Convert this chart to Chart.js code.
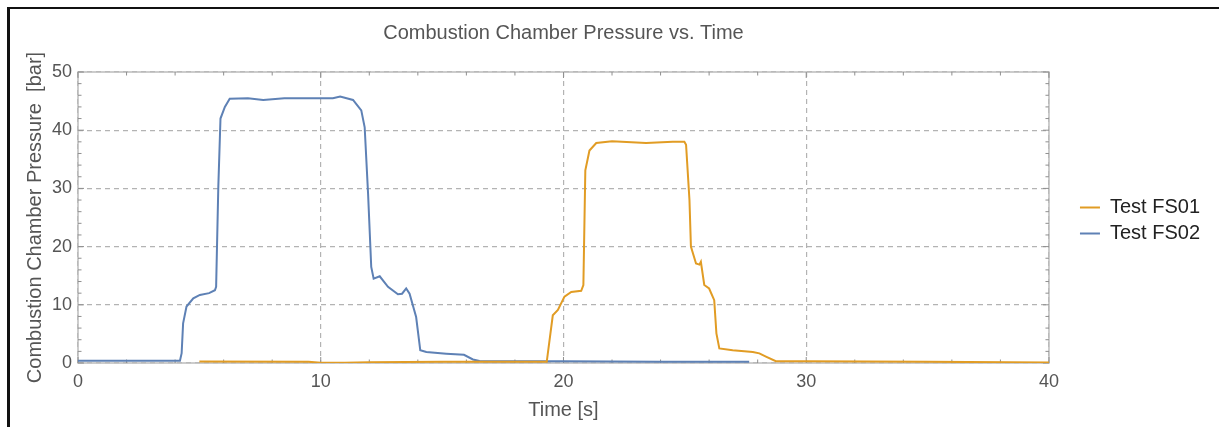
<!DOCTYPE html>
<html>
<head>
<meta charset="utf-8">
<script src="https://cdn.jsdelivr.net/npm/chart.js@4.4.1/dist/chart.umd.min.js"></script>
<style>
  html, body { margin: 0; padding: 0; background: #fff; }
  #caja { position: relative; width: 1219px; height: 427px; }
  #borde { position: absolute; left: 7px; top: 7px; right: 0; bottom: 0; border-left: 3px solid #111; border-top: 2px solid #111; pointer-events: none; }
</style>
</head>
<body>
<div id="caja">
  <canvas id="grafica" width="1219" height="427"></canvas>
  <div id="borde"></div>
</div>
<script>
// Datos (tiempo en s, presion en bar)
let tiempoFS01 = [5.0, 9.5, 10.0, 11.0, 12.0, 15.0, 19.31, 19.56, 19.77, 20.04, 20.32, 20.73, 20.82, 20.9, 21.07, 21.35, 22.0, 23.4, 24.5, 24.98, 25.05, 25.19, 25.25, 25.46, 25.6, 25.66, 25.8, 26.0, 26.21, 26.3, 26.42, 26.97, 27.8, 28.07, 28.34, 28.75, 30.0, 35.0, 40.0];
let presionFS01 = [0.25, 0.2, 0.05, 0.05, 0.15, 0.2, 0.2, 8.2, 9.1, 11.4, 12.2, 12.4, 13.4, 33.1, 36.5, 37.8, 38.1, 37.8, 38.0, 38.0, 37.5, 28.0, 20.0, 17.1, 16.9, 17.4, 13.4, 12.8, 10.8, 5.1, 2.5, 2.2, 1.9, 1.65, 1.1, 0.3, 0.3, 0.2, 0.1];

let tiempoFS02 = [0, 4.2, 4.27, 4.33, 4.47, 4.75, 5.02, 5.4, 5.64, 5.69, 5.78, 5.87, 6.05, 6.25, 7.0, 7.63, 8.5, 9.5, 10.5, 10.8, 11.33, 11.67, 11.81, 11.95, 12.08, 12.18, 12.43, 12.77, 13.18, 13.35, 13.52, 13.66, 13.93, 14.1, 14.35, 15.17, 15.9, 16.27, 16.54, 17.0, 20.0, 24.0, 27.65];
let presionFS02 = [0.4, 0.4, 1.7, 6.8, 9.7, 11.1, 11.7, 12.0, 12.5, 13.1, 30.2, 42.0, 44.0, 45.4, 45.5, 45.2, 45.5, 45.5, 45.5, 45.8, 45.2, 43.4, 40.5, 29.1, 16.5, 14.5, 14.9, 13.1, 11.8, 11.9, 12.8, 11.9, 7.9, 2.2, 1.9, 1.6, 1.4, 0.6, 0.35, 0.3, 0.3, 0.2, 0.2];

let etiquetas = ['Test FS01', 'Test FS02'];
let titulo = 'Combustion Chamber Pressure vs. Time';
let tituloX = 'Time [s]';
let tituloY = 'Combustion Chamber Pressure  [bar]';

const naranja = '#E19C24';
const azul = '#5E81B5';
const fuente = "'Liberation Sans', Arial, sans-serif";

function puntos(t, p) {
    return t.map((v, i) => ({ x: v, y: p[i] }));
}

//Marco gris con marcas menores (estilo Mathematica)
const marco = {
    id: 'marco',
    beforeDatasetsDraw(chart) {
        const { ctx, chartArea: a, scales: { x, y } } = chart;
        ctx.save();
        ctx.strokeStyle = '#bcbcbc';
        ctx.lineWidth = 1.5;
        ctx.strokeRect(a.left, a.top, a.right - a.left, a.bottom - a.top);
        ctx.strokeStyle = '#8f8f8f';
        ctx.lineWidth = 1;
        ctx.beginPath();
        for (let v = 0; v <= 40; v += 2) {
            const px = x.getPixelForValue(v);
            const largo = v % 10 === 0 ? 6 : 3.5;
            ctx.moveTo(px, a.bottom); ctx.lineTo(px, a.bottom - largo);
            ctx.moveTo(px, a.top); ctx.lineTo(px, a.top + largo);
        }
        for (let v = 0; v <= 50; v += 2) {
            const py = y.getPixelForValue(v);
            const largo = v % 10 === 0 ? 6 : 3.5;
            ctx.moveTo(a.left, py); ctx.lineTo(a.left + largo, py);
            ctx.moveTo(a.right, py); ctx.lineTo(a.right - largo, py);
        }
        ctx.stroke();
        ctx.restore();
    }
};

const rejilla = {
    color: '#b3b3b3',
    lineWidth: 1.2,
    drawTicks: false
};

const grafica = new Chart(document.getElementById("grafica"), {
    type: 'line',
    data: {
        datasets: [
            { label: etiquetas[0], data: puntos(tiempoFS01, presionFS01), borderColor: naranja, backgroundColor: naranja, borderWidth: 2, pointRadius: 0, tension: 0 },
            { label: etiquetas[1], data: puntos(tiempoFS02, presionFS02), borderColor: azul, backgroundColor: azul, borderWidth: 2, pointRadius: 0, tension: 0 }
        ]
    },
    options: {
        responsive: false,
        animation: false,
        layout: { padding: { left: 0, top: 0, bottom: 0, right: 9 } },
        plugins: {
            title: {
                display: true,
                text: titulo,
                fullSize: false,
                color: '#555',
                font: { size: 20, weight: 'normal', family: fuente },
                padding: { top: 21, bottom: 27 }
            },
            legend: {
                position: 'right',
                fullSize: false,
                title: { display: true, text: '', padding: 0, font: { size: 5 } },
                labels: {
                    usePointStyle: true,
                    pointStyle: 'line',
                    pointStyleWidth: 20,
                    padding: 6,
                    color: '#222',
                    font: { size: 20, family: fuente }
                }
            },
            tooltip: { enabled: false }
        },
        scales: {
            x: {
                type: 'linear',
                min: 0,
                max: 40,
                ticks: { stepSize: 10, padding: 8, color: '#555', font: { size: 18, family: fuente } },
                grid: { ...rejilla },
                border: { display: false, dash: [5, 4] },
                title: { display: true, text: tituloX, color: '#555', font: { size: 20, family: fuente }, padding: { top: 0, bottom: 5 } },
                afterFit: function (s) { s.height = 64; }
            },
            y: {
                min: 0,
                max: 50,
                ticks: { stepSize: 10, padding: 6, color: '#555', font: { size: 18, family: fuente } },
                grid: { ...rejilla },
                border: { display: false, dash: [5, 4] },
                title: { display: true, text: tituloY, color: '#555', font: { size: 20, family: fuente }, padding: { top: 23, bottom: 0 } },
                afterFit: function (s) { s.width = 78; }
            },
            y2: {
                position: 'right',
                display: true,
                grid: { display: false, drawTicks: false },
                ticks: { display: false },
                border: { display: false },
                afterFit: function (s) { s.width = 25; }
            }
        }
    },
    plugins: [marco]
});
</script>
</body>
</html>
